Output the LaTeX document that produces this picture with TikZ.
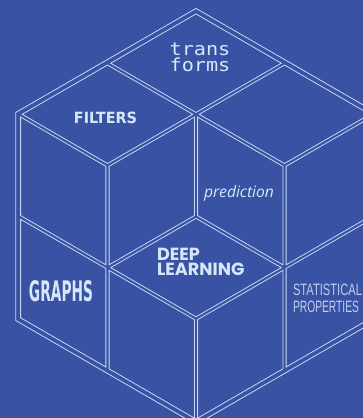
\documentclass[tikz,border=0pt]{standalone}
\usepackage{fontspec}
\usetikzlibrary{calc}
\newfontfamily\monofnt{DejaVu Sans Mono}
\newfontfamily\boldfnt{DejaVu Sans}
\newfontfamily\italfnt{Open Sans}
\newfontfamily\geofnt{Poppins}
\newfontfamily\plainfnt{Liberation Sans}
\definecolor{bgblue}{RGB}{57,82,164}
\definecolor{linecol}{RGB}{200,216,242}
\definecolor{txtcol}{RGB}{214,232,248}
\definecolor{dimtxt}{RGB}{192,206,234}
\newcommand{\tilefac}{0.9638}
\newcommand{\drawtile}[4]{%
  \coordinate (tc) at ($(#1)!0.5!(#3)$);
  \draw[tileline] ($(tc)!\tilefac!(#1)$) -- ($(tc)!\tilefac!(#2)$) -- ($(tc)!\tilefac!(#3)$) -- ($(tc)!\tilefac!(#4)$) -- cycle;}
\begin{document}
\begin{tikzpicture}[x=1pt,y=1pt,
  tileline/.style={draw=linecol, line width=0.8pt, line join=miter},
  lbl/.style={inner sep=0pt, outer sep=0pt, text=txtcol}]
\fill[bgblue] (0,0) rectangle (363,418);
\useasboundingbox (0,0) rectangle (363,418);
\clip (0,0) rectangle (363,418);
\begin{scope}[shift={(196,201.5)}, x={(-88.5pt,51.1pt)}, y={(88.5pt,51.1pt)}, z={(0pt,-102.2pt)}]
  \foreach \a in {0,1,2}{\foreach \b in {0,1,2}{\foreach \c in {0,1,2}{%
    \coordinate (g\a\b\c) at (\a,\b,\c);}}}
\end{scope}
% outer hexagon
\draw[tileline] ($(g000)!1.0181!(g200)$) -- ($(g000)!1.0181!(g220)$) -- ($(g000)!1.0181!(g020)$)
  -- ($(g000)!1.0181!(g022)$) -- ($(g000)!1.0181!(g002)$) -- ($(g000)!1.0181!(g202)$) -- cycle;
% top face
\drawtile{g100}{g200}{g210}{g110}
\drawtile{g010}{g110}{g120}{g020}
\drawtile{g110}{g210}{g220}{g120}
% left face
\drawtile{g100}{g200}{g201}{g101}
\drawtile{g101}{g201}{g202}{g102}
\drawtile{g001}{g101}{g102}{g002}
% right face
\drawtile{g010}{g020}{g021}{g011}
\drawtile{g001}{g011}{g012}{g002}
\drawtile{g011}{g021}{g022}{g012}
% cavity
\drawtile{g100}{g110}{g111}{g101}
\drawtile{g010}{g110}{g111}{g011}
\drawtile{g001}{g101}{g111}{g011}
% labels
\node[lbl, anchor=north, align=center, font={\monofnt\fontsize{18}{16}\selectfont}] (transforms) at (200,375)
  {\scalebox{1.12}[1]{trans}\\\scalebox{1.12}[1]{forms}};
\node[lbl] (filters) at (105.5,300.5) {\resizebox{63pt}{11.5pt}{\boldfnt\bfseries FILTERS}};
\node[lbl, anchor=base west] (prediction) at (204,220.5) {\resizebox{70pt}{!}{\italfnt\itshape prediction}};
\node[lbl, anchor=north west, align=left, font={\geofnt\bfseries\fontsize{17.6}{14.5}\selectfont}] (deeplearning) at (157,169.5)
  {DEEP\\LEARNING};
\node[lbl] (graphs) at (61,126.5) {\resizebox{64pt}{21pt}{\boldfnt\bfseries GRAPHS}};
\node[lbl, text=dimtxt, anchor=north west, align=left, inner sep=0pt] (statprop) at (293,134.5)
  {\resizebox{69pt}{11.5pt}{\plainfnt STATISTICAL}\\[5.5pt]\resizebox{66pt}{11.5pt}{\plainfnt PROPERTIES}};
\end{tikzpicture}
\end{document}
